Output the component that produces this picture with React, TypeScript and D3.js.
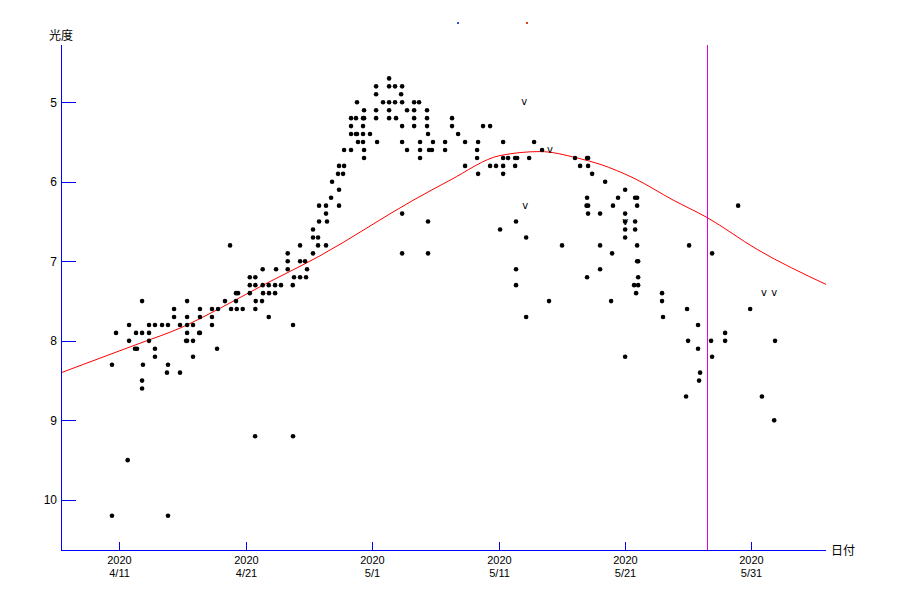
import React from "react";
import * as d3 from "d3";

// Observations: [date as "M/D.dd" (2020), magnitude]
const observations: [string, number][] = [
  ["4/10.42", 8.3], ["4/10.42", 10.2], ["4/10.74", 7.9], ["4/11.66", 9.5],
  ["4/11.77", 7.8], ["4/11.77", 8.0], ["4/12.24", 8.1], ["4/12.40", 8.1],
  ["4/12.32", 7.9], ["4/12.80", 7.9], ["4/12.80", 7.5], ["4/12.80", 8.5],
  ["4/12.80", 8.6], ["4/12.87", 8.3], ["4/13.35", 7.8], ["4/13.35", 7.9],
  ["4/13.35", 8.0], ["4/13.82", 7.8], ["4/13.82", 8.1], ["4/13.82", 8.2],
  ["4/14.38", 7.8], ["4/14.85", 7.8], ["4/14.85", 8.3], ["4/14.77", 8.4],
  ["4/14.85", 10.2], ["4/15.33", 7.6], ["4/15.33", 7.7], ["4/15.80", 7.8],
  ["4/15.80", 8.4], ["4/16.36", 7.5], ["4/16.36", 7.7], ["4/16.36", 7.8],
  ["4/16.36", 7.9], ["4/16.28", 8.0], ["4/16.36", 8.0], ["4/16.83", 7.8],
  ["4/16.83", 8.0], ["4/16.83", 8.2], ["4/17.38", 7.6], ["4/17.38", 7.7],
  ["4/17.31", 7.9], ["4/17.38", 7.9], ["4/18.33", 7.6], ["4/18.81", 7.6],
  ["4/18.33", 7.7], ["4/18.33", 7.8], ["4/18.73", 8.1], ["4/19.36", 7.5],
  ["4/19.76", 6.8], ["4/19.84", 7.6], ["4/20.23", 7.4], ["4/20.39", 7.4],
  ["4/20.23", 7.5], ["4/20.29", 7.6], ["4/20.76", 7.6], ["4/21.32", 7.2],
  ["4/21.76", 7.2], ["4/21.32", 7.3], ["4/21.76", 7.3], ["4/21.32", 7.4],
  ["4/21.79", 7.5], ["4/21.76", 7.6], ["4/21.74", 9.2], ["4/22.34", 7.1],
  ["4/22.34", 7.3], ["4/22.37", 7.4], ["4/22.29", 7.5], ["4/22.82", 7.3],
  ["4/22.84", 7.4], ["4/22.82", 7.7], ["4/23.40", 7.1], ["4/23.32", 7.3],
  ["4/23.32", 7.4], ["4/23.79", 7.3], ["4/24.32", 6.9], ["4/24.32", 7.0],
  ["4/24.32", 7.1], ["4/24.72", 7.3], ["4/24.82", 7.2], ["4/24.74", 7.8],
  ["4/24.74", 9.2], ["4/25.30", 6.8], ["4/25.30", 7.0], ["4/25.30", 7.2],
  ["4/25.69", 7.0], ["4/25.77", 7.2], ["4/25.85", 7.1], ["4/26.32", 6.6],
  ["4/26.32", 6.7], ["4/26.32", 6.9], ["4/26.72", 6.7], ["4/26.72", 6.8],
  ["4/26.80", 6.3], ["4/26.80", 6.5], ["4/27.35", 6.3], ["4/27.35", 6.4],
  ["4/27.43", 6.5], ["4/27.35", 6.8], ["4/27.75", 6.2], ["4/27.83", 6.0],
  ["4/28.38", 6.3], ["4/28.38", 6.1], ["4/28.38", 5.8], ["4/28.30", 5.9],
  ["4/28.78", 5.8], ["4/28.70", 5.9], ["4/28.78", 5.6], ["4/29.33", 5.6],
  ["4/29.33", 5.2], ["4/29.33", 5.3], ["4/29.33", 5.4], ["4/29.72", 5.2],
  ["4/29.72", 5.4], ["4/29.80", 5.4], ["4/29.80", 5.0], ["4/29.88", 5.5],
  ["4/30.28", 5.2], ["4/30.36", 5.2], ["4/30.28", 5.3], ["4/30.28", 5.4],
  ["4/30.28", 5.5], ["4/30.36", 5.1], ["4/30.36", 5.6], ["4/30.36", 5.7],
  ["4/30.83", 5.4],
  ["5/1.31", 4.8], ["5/1.31", 4.9], ["5/1.31", 5.1], ["5/1.31", 5.2],
  ["5/1.39", 5.5], ["5/1.86", 5.0], ["5/2.34", 4.7], ["5/2.34", 4.8],
  ["5/2.34", 5.0], ["5/2.34", 5.1], ["5/2.34", 5.2], ["5/2.81", 4.8],
  ["5/2.81", 5.0], ["5/2.89", 5.2], ["5/3.37", 4.8], ["5/3.29", 4.9],
  ["5/3.37", 5.0], ["5/3.37", 5.3], ["5/3.37", 5.5], ["5/3.37", 6.4],
  ["5/3.37", 6.9], ["5/3.76", 5.1], ["5/3.76", 5.6], ["5/4.32", 5.0],
  ["5/4.32", 5.1], ["5/4.32", 5.2], ["5/4.32", 5.3], ["5/4.71", 5.0],
  ["5/4.79", 5.5], ["5/4.79", 5.6], ["5/4.79", 5.7], ["5/5.34", 5.1],
  ["5/5.34", 5.2], ["5/5.34", 5.3], ["5/5.42", 5.4], ["5/5.50", 5.6],
  ["5/5.73", 5.6], ["5/5.81", 5.5], ["5/5.42", 6.5], ["5/5.42", 6.9],
  ["5/6.77", 5.5], ["5/6.77", 5.6], ["5/7.32", 5.2], ["5/7.32", 5.3],
  ["5/7.80", 5.4], ["5/8.35", 5.5], ["5/8.35", 5.8], ["5/9.30", 5.6],
  ["5/9.30", 5.7], ["5/9.38", 5.5], ["5/9.38", 5.9], ["5/9.77", 5.3],
  ["5/10.33", 5.3], ["5/10.33", 5.8], ["5/10.80", 5.8], ["5/11.12", 6.6],
  ["5/11.36", 5.5], ["5/11.36", 5.7], ["5/11.36", 5.8], ["5/11.36", 5.9],
  ["5/11.75", 5.7], ["5/12.31", 5.7], ["5/12.47", 5.7], ["5/12.31", 5.8],
  ["5/12.38", 6.5], ["5/12.38", 7.1], ["5/12.38", 7.3], ["5/13.18", 6.7],
  ["5/13.18", 7.7], ["5/13.42", 5.7], ["5/13.81", 5.5], ["5/14.44", 5.6],
  ["5/14.99", 7.5], ["5/16.02", 6.8], ["5/17.05", 5.7], ["5/17.45", 5.8],
  ["5/18.00", 5.7], ["5/18.08", 5.7], ["5/18.08", 5.8], ["5/18.00", 6.2],
  ["5/17.96", 6.3], ["5/18.08", 6.3], ["5/18.08", 6.4], ["5/18.00", 7.2],
  ["5/18.40", 5.9], ["5/19.03", 6.4], ["5/19.03", 6.8], ["5/19.03", 7.1],
  ["5/19.43", 6.0], ["5/19.90", 7.5], ["5/19.98", 6.9], ["5/20.05", 6.3],
  ["5/20.45", 6.2], ["5/21.01", 6.1], ["5/21.01", 6.4], ["5/21.01", 6.5],
  ["5/21.01", 6.6], ["5/21.01", 6.7], ["5/21.01", 8.2], ["5/21.80", 6.2],
  ["5/21.96", 6.2], ["5/21.96", 6.3], ["5/21.80", 6.5], ["5/21.80", 6.6],
  ["5/21.96", 6.8], ["5/21.96", 7.0], ["5/22.04", 7.0], ["5/22.04", 7.2],
  ["5/21.72", 7.3], ["5/22.04", 7.3], ["5/21.88", 7.4], ["5/23.93", 7.4],
  ["5/23.93", 7.5], ["5/24.01", 7.7], ["5/25.83", 8.7], ["5/25.91", 7.6],
  ["5/25.99", 8.0], ["5/26.07", 6.8], ["5/26.78", 7.8], ["5/26.78", 8.1],
  ["5/26.86", 8.5], ["5/26.94", 8.4], ["5/27.81", 8.0], ["5/27.89", 6.9],
  ["5/27.89", 8.2], ["5/28.92", 7.9], ["5/28.92", 8.0], ["5/29.95", 6.3],
  ["5/30.90", 7.6], ["5/31.83", 8.7], ["6/1.87", 8.0], ["6/1.80", 9.0],
];

// Observations marked "v"
const limitObs: [string, number][] = [
  ["5/13.02", 5.0], ["5/13.10", 6.3], ["5/15.07", 5.6], ["5/21.01", 6.5],
  ["6/1.00", 7.4], ["6/1.80", 7.4],
];

// Predicted light curve (red)
const curveDates: string[] = [
  "4/6.41", "4/10.27", "4/12.64", "4/15.80", "4/18.97", "4/22.13", "4/26.88",
  "5/4.16", "5/7.16", "5/11.12", "5/14.28", "5/17.21", "5/19.03", "5/21.64",
  "5/24.81", "5/27.50", "5/31.45", "6/5.90",
];
const curveMags: number[] = [
  8.40, 8.17, 8.03, 7.84, 7.59, 7.32, 6.93,
  6.24, 5.98, 5.67, 5.62, 5.70, 5.78, 5.95,
  6.23, 6.45, 6.85, 7.29,
];

const xTickLabels: string[] = ["4/11", "4/21", "5/1", "5/11", "5/21", "5/31"];
const yTicks: number[] = [5, 6, 7, 8, 9, 10];
const xDomain: string[] = ["4/6.41", "6/5.90"];
const yDomain: number[] = [4.28, 10.63];
const markerDate = "5/27.50";
const yearLabel = "2020";

function toDate(s: string): Date {
  const [m, d] = s.split("/");
  const base = new Date(2020, Number(m) - 1, 1).getTime();
  return new Date(base + (Number(d) - 1) * 86400000);
}

const FONT = "'Noto Sans CJK JP', 'DejaVu Sans', sans-serif";
const TICK_FONT = "'Liberation Sans', Arial, sans-serif";

export default function App() {
  const W = 900, H = 600;
  const left = 61.5, right = 826, top = 45, bottom = 550.5;
  const x = d3.scaleTime().domain(xDomain.map(toDate)).range([61.3, right]);
  const y = d3.scaleLinear().domain(yDomain).range([top, 550]);

  const line = d3
    .line<number>()
    .x((_, i) => x(toDate(curveDates[i])))
    .y((m) => y(m))
    .curve(d3.curveMonotoneX);

  const blue = "#0000ff";
  const mx = Math.round(x(toDate(markerDate))) + 0.5;
  const snap = (v: number) => Math.round(v) + 0.5;

  return (
    <svg
      width={W}
      height={H}
      style={{ position: "absolute", left: 0, top: 0, background: "#fff" }}
      fontFamily={FONT}
    >
      <rect x={0} y={0} width={W} height={H} fill="#fff" />
      {/* small title remnants */}
      <rect x={457} y={22} width={2} height={2} fill="#3050d0" />
      <rect x={526} y={22} width={2} height={2} fill="#e04020" />

      {/* red model curve */}
      <path d={line(curveMags) ?? ""} fill="none" stroke="#ff0000" strokeWidth={1} />

      {/* observations */}
      {observations.map(([d, m], i) => (
        <circle key={i} cx={x(toDate(d))} cy={y(m)} r={2.3} fill="#000" />
      ))}
      {limitObs.map(([d, m], i) => (
        <text
          key={"v" + i}
          x={x(toDate(d))}
          y={y(m) + 3}
          fontSize={10}
          textAnchor="middle"
          fill="#000"
          fontFamily="'DejaVu Sans', sans-serif"
        >
          v
        </text>
      ))}

      {/* magenta marker line */}
      <line
        x1={mx} x2={mx} y1={top} y2={bottom}
        stroke="#e000e0" strokeWidth={1} shapeRendering="crispEdges"
      />

      {/* y axis */}
      <line
        x1={left} x2={left} y1={top} y2={bottom}
        stroke={blue} strokeWidth={1} shapeRendering="crispEdges"
      />
      {yTicks.map((t) => (
        <g key={t}>
          <line
            x1={left} x2={left + 14} y1={snap(y(t))} y2={snap(y(t))}
            stroke={blue} strokeWidth={1} shapeRendering="crispEdges"
          />
          <text
            x={57} y={y(t) + 4.5} fontSize={12} textAnchor="end" fill="#000"
            fontFamily={TICK_FONT}
          >
            {t}
          </text>
        </g>
      ))}
      <text x={61} y={40} fontSize={12} textAnchor="middle" fill="#000">
        光度
      </text>

      {/* x axis */}
      <line
        x1={left} x2={right} y1={bottom} y2={bottom}
        stroke={blue} strokeWidth={1} shapeRendering="crispEdges"
      />
      {xTickLabels.map((t) => {
        const tx = snap(x(toDate(t)));
        return (
          <g key={t} fontFamily={TICK_FONT}>
            <line
              x1={tx} x2={tx} y1={bottom - 9} y2={bottom}
              stroke={blue} strokeWidth={1} shapeRendering="crispEdges"
            />
            <text x={tx} y={564} fontSize={11} textAnchor="middle" fill="#000">
              {yearLabel}
            </text>
            <text x={tx} y={577} fontSize={11} textAnchor="middle" fill="#000">
              {t}
            </text>
          </g>
        );
      })}
      <text x={831} y={555} fontSize={12} textAnchor="start" fill="#000">
        日付
      </text>
    </svg>
  );
}
